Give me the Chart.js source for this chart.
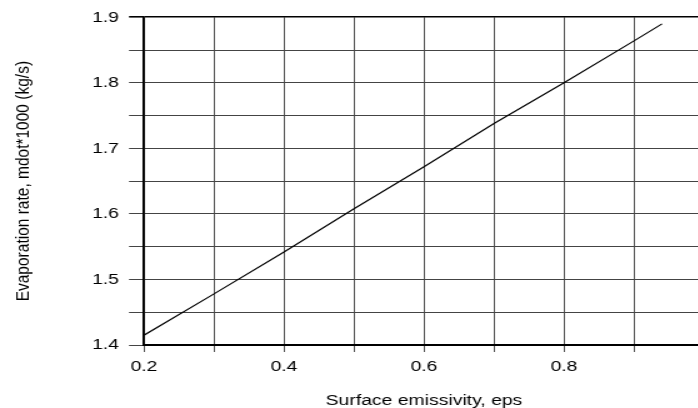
<!DOCTYPE html>
<html>
<head>
<meta charset="utf-8">
<script src="https://cdn.jsdelivr.net/npm/chart.js@4/dist/chart.umd.min.js"></script>
<style>
    html, body { margin: 0; padding: 0; background: #fff; overflow: hidden; }
    #wrap {
        position: absolute; left: 0; top: 0;
        width: 570px; height: 414px;
        transform: scaleX(1.25);
        transform-origin: 0 0;
    }
</style>
</head>
<body>
<div id="wrap"><canvas id="myChart" width="570" height="414"></canvas></div>
<script>
// surface emissivity vs evaporation rate (mdot*1000, kg/s)
var epsValues = [0.2, 0.3, 0.4, 0.5, 0.6, 0.7, 0.8, 0.9, 0.94];
var evapRate = [1.415, 1.478, 1.542, 1.608, 1.672, 1.738, 1.800, 1.864, 1.890];
var xTickLabels = ['0.2', '0.4', '0.6', '0.8'];
var yTickLabels = ['1.4', '1.5', '1.6', '1.7', '1.8', '1.9'];

var font = { family: "'Liberation Sans', Arial, sans-serif", size: 15.5 };

document.addEventListener('DOMContentLoaded', function () {
    var ctx = document.getElementById('myChart').getContext('2d');
    var points = epsValues.map(function (x, i) { return { x: x, y: evapRate[i] }; });

    var myChart = new Chart(ctx, {
        type: 'line',
        data: {
            datasets: [{
                data: points,
                borderColor: '#000',
                borderWidth: 1.2,
                pointRadius: 0,
                tension: 0,
                fill: false
            }]
        },
        options: {
            responsive: false,
            animation: false,
            layout: { padding: { left: 0, right: 6.8, top: 17, bottom: 0 } },
            plugins: { legend: { display: false }, tooltip: { enabled: false } },
            scales: {
                x: {
                    type: 'linear',
                    min: 0.2,
                    max: 1.0,
                    afterFit: function (axis) { axis.height = 69; },
                    ticks: {
                        stepSize: 0.1,
                        autoSkip: false,
                        maxRotation: 0,
                        padding: 5,
                        color: '#000',
                        font: font,
                        callback: function (v) {
                            var s = (Math.round(v * 10) / 10).toFixed(1);
                            return xTickLabels.indexOf(s) >= 0 ? s : '';
                        }
                    },
                    grid: {
                        color: '#555',
                        lineWidth: 1,
                        tickLength: 7,
                        drawTicks: true
                    },
                    border: { display: true, color: '#000', width: 2 },
                    title: {
                        display: true,
                        text: 'Surface emissivity, eps',
                        color: '#000',
                        font: font,
                        padding: { top: 0, bottom: 4 }
                    }
                },
                y: {
                    min: 1.4,
                    max: 1.9,
                    afterFit: function (axis) { axis.width = 115.2; },
                    ticks: {
                        stepSize: 0.05,
                        autoSkip: false,
                        padding: 8,
                        color: '#000',
                        font: font,
                        callback: function (v) {
                            var s = (Math.round(v * 100) / 100).toFixed(2);
                            var t = s.slice(0, 3);
                            return s.slice(3) === '0' && yTickLabels.indexOf(t) >= 0 ? t : '';
                        }
                    },
                    grid: {
                        color: function (c) {
                            return c.tick && Math.abs(c.tick.value - 1.9) < 1e-6 ? '#000' : '#444';
                        },
                        lineWidth: function (c) {
                            return c.tick && Math.abs(c.tick.value - 1.9) < 1e-6 ? 1.6 : 1;
                        },
                        tickLength: 12,
                        drawTicks: true
                    },
                    border: { display: true, color: '#000', width: 1.8 },
                    title: {
                        display: true,
                        text: 'Evaporation rate, mdot*1000 (kg/s)',
                        color: '#000',
                        font: font,
                        padding: { top: 9, bottom: 0 }
                    }
                }
            }
        }
    });
});
</script>
</body>
</html>
